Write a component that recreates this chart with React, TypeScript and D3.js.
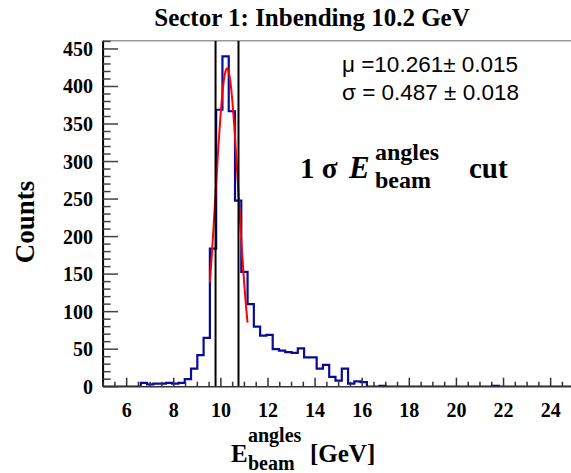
import React from "react";
import * as d3 from "d3";

// Histogram binning: 75 equal bins spanning the axis range
const xMin = 5;
const xMax = 25;
const binCount = 75;

// Counts per bin (E_beam from angles, sector 1)
const counts = [
  0, 0, 0, 0, 0, 0, 5, 3, 4, 4,
  5, 4, 5, 10, 24, 42, 65, 184, 369, 440,
  367, 248, 153, 110, 80, 68, 69, 50, 48, 46,
  45, 51, 39, 39, 24, 29, 13, 8, 24, 4,
  7, 6, 0, 0, 1, 0, 0, 0, 0, 0,
  0, 0, 0, 0, 0, 0, 0, 0, 0, 0,
  0, 0, 1, 0, 0, 0, 0, 0, 0, 0,
  0, 0, 0, 0, 0,
];

// Gaussian fit results
const fitMean = 10.261;
const fitMeanErr = 0.015;
const fitSigma = 0.487;
const fitSigmaErr = 0.018;
const fitAmplitude = 424;
const fitRange = [9.533, 11.133];

const yMax = 461;
const xMajorTicks = [6, 8, 10, 12, 14, 16, 18, 20, 22, 24];
const yMajorTicks = [0, 50, 100, 150, 200, 250, 300, 350, 400, 450];

const title = "Sector 1: Inbending 10.2 GeV";

const W = 571;
const H = 473;
const left = 103.1;
const right = 574.2;
const top = 40.7;
const bottom = 386.7;

const serif = "'Liberation Serif', 'Times New Roman', serif";
const sans = "'Liberation Sans', Arial, sans-serif";

export default function App() {
  const x = d3.scaleLinear().domain([xMin, xMax]).range([left, right]);
  const y = d3.scaleLinear().domain([0, yMax]).range([bottom, top]);
  const binWidth = (xMax - xMin) / binCount;

  // step outline of the histogram
  const pts: [number, number][] = [];
  counts.forEach((c, i) => {
    const x0 = xMin + i * binWidth;
    const x1 = x0 + binWidth;
    pts.push([x(x0), y(c)]);
    pts.push([x(x1), y(c)]);
  });
  const histPath = d3.line()(pts) as string;

  // fitted gaussian
  const fitPts: [number, number][] = d3
    .range(0, 101)
    .map((k) => fitRange[0] + ((fitRange[1] - fitRange[0]) * k) / 100)
    .map((v) => [
      x(v),
      y(fitAmplitude * Math.exp(-0.5 * ((v - fitMean) / fitSigma) ** 2)),
    ]);
  const fitPath = d3.line()(fitPts) as string;

  const yMinor = d3.range(0, yMax + 0.001, 10).filter((v) => v % 50 !== 0);
  const xMinor = d3.range(xMin, xMax + 0.001, 0.5).filter((v) => v % 2 !== 0);

  const cutLo = fitMean - fitSigma;
  const cutHi = fitMean + fitSigma;

  return (
    <svg
      width={W}
      height={H}
      style={{ position: "absolute", left: 0, top: 0, background: "#fff" }}
    >
      <defs>
        <clipPath id="plotClip">
          <rect x={left} y={top} width={right - left} height={bottom - top} />
        </clipPath>
      </defs>

      {/* title */}
      <text
        x={312}
        y={26}
        textAnchor="middle"
        fontFamily={serif}
        fontWeight="bold"
        fontSize={25}
        fill="#000"
      >
        {title}
      </text>

      {/* frame top */}
      <line x1={left} x2={W} y1={top} y2={top} stroke="#999" strokeWidth={1.5} />

      {/* histogram */}
      <g clipPath="url(#plotClip)">
        <path d={histPath} fill="none" stroke="#0a0a9a" strokeWidth={2.2} />
        <path d={fitPath} fill="none" stroke="#f00" strokeWidth={2} />
        {[cutLo, cutHi].map((c) => (
          <line
            key={c}
            x1={x(c)}
            x2={x(c)}
            y1={top}
            y2={bottom}
            stroke="#000"
            strokeWidth={2}
          />
        ))}
      </g>

      {/* y axis */}
      <line x1={left} x2={left} y1={top} y2={bottom} stroke="#000" strokeWidth={2} />
      {yMajorTicks.map((v) => (
        <g key={"ym" + v}>
          <line x1={left} x2={left + 15} y1={y(v)} y2={y(v)} stroke="#444" strokeWidth={1.5} />
          <text
            x={93}
            y={y(v)}
            dy="0.35em"
            textAnchor="end"
            fontFamily={serif}
            fontWeight="bold"
            fontSize={20}
            fill="#000"
          >
            {v}
          </text>
        </g>
      ))}
      {yMinor.map((v) => (
        <line key={"yn" + v} x1={left} x2={left + 7.5} y1={y(v)} y2={y(v)} stroke="#444" strokeWidth={1.5} />
      ))}

      {/* x axis */}
      <line x1={left} x2={W} y1={bottom} y2={bottom} stroke="#333" strokeWidth={1.5} />
      {xMajorTicks.map((v) => (
        <g key={"xm" + v}>
          <line x1={x(v)} x2={x(v)} y1={bottom} y2={bottom - 9} stroke="#333" strokeWidth={1.5} />
          <text
            x={x(v)}
            y={417}
            textAnchor="middle"
            fontFamily={serif}
            fontWeight="bold"
            fontSize={20}
            fill="#000"
          >
            {v}
          </text>
        </g>
      ))}
      {xMinor.map((v) => (
        <line key={"xn" + v} x1={x(v)} x2={x(v)} y1={bottom} y2={bottom - 5} stroke="#333" strokeWidth={1.5} />
      ))}

      {/* axis titles */}
      <text
        transform="translate(34,222) rotate(-90)"
        textAnchor="middle"
        fontFamily={serif}
        fontWeight="bold"
        fontSize={27}
        fill="#000"
      >
        Counts
      </text>
      <g fontFamily={serif} fontWeight="bold" fill="#000">
        <text x={231} y={462} fontSize={25}>E</text>
        <text x={248} y={442} fontSize={20}>angles</text>
        <text x={248} y={470} fontSize={20}>beam</text>
        <text x={310} y={462} fontSize={25}>[GeV]</text>
      </g>

      {/* fit statistics */}
      <g fontFamily={sans} fontSize={22.5} fill="#000">
        <text x={342} y={72}>
          {`\u03bc =${fitMean.toFixed(3)}\u00b1 ${fitMeanErr.toFixed(3)}`}
        </text>
        <text x={342} y={100}>
          {`\u03c3 = ${fitSigma.toFixed(3)} \u00b1 ${fitSigmaErr.toFixed(3)}`}
        </text>
      </g>

      {/* cut annotation */}
      <g fontFamily={serif} fontWeight="bold" fill="#000">
        <text x={300} y={178} fontSize={29}>1 σ</text>
        <text x={349} y={178} fontSize={31} fontStyle="italic">E</text>
        <text x={375} y={160} fontSize={24}>angles</text>
        <text x={375} y={188} fontSize={24}>beam</text>
        <text x={469} y={178} fontSize={29}>cut</text>
      </g>
    </svg>
  );
}
